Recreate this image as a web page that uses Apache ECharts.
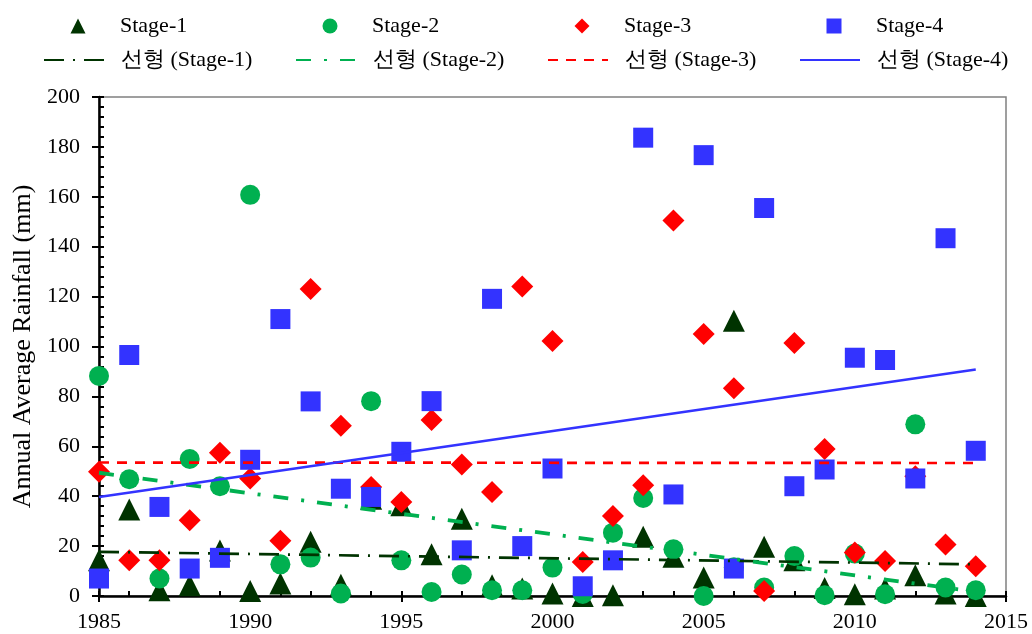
<!DOCTYPE html>
<html><head><meta charset="utf-8">
<script src="https://cdn.jsdelivr.net/npm/echarts@6/dist/echarts.min.js"></script>
<style>html,body{margin:0;padding:0;background:#fff}#c{width:1032px;height:634px}</style>
</head><body><div id="c"></div>
<script>
// ---- data ----
const years = [1985,1986,1987,1988,1989,1990,1991,1992,1993,1994,1995,1996,1997,1998,1999,2000,2001,2002,2003,2004,2005,2006,2007,2008,2009,2010,2011,2012,2013,2014];
const stage1 = [14.3,34.7,2.3,4.3,18.2,2.0,5.0,21.7,4.5,39,36.4,16.7,31,4.3,3,1,0,0.3,23.7,15.7,7.4,110.3,19.7,14.3,3.2,0.7,3,8.3,1,0];
const stage2 = [88.2,46.8,7,54.9,44,160.8,12.7,15.4,1,78.1,14.3,1.6,8.6,2.3,2.3,11.4,0.8,25.4,39.3,18.7,0,11.5,3.4,16,0.3,17,0.7,68.8,3.4,2.3];
const stage3 = [49.8,14.3,14.3,30.4,57.4,47.1,22.1,123,68.2,43.7,37.7,70.5,52.7,41.7,124,102.2,13.6,32.1,44.4,150.5,105,83.3,2,101.4,58.9,17.4,14,48,20.6,11.9];
const stage4 = [7,96.6,35.7,11,15.3,54.6,111,78,43,39.7,57.8,78.1,18.3,119.1,20,51.1,3.9,14.3,183.7,40.7,176.7,11,155.5,44,50.7,95.5,94.6,47.1,143.4,58.2];
const trendYears = [1985, 2014];
const trend1 = [17.7, 12.7];
const trend2 = [49.4, 1.7];
const trend3 = [53.5, 53.3];
const trend4 = [39.7, 90.8];
const stageNames = ['Stage-1','Stage-2','Stage-3','Stage-4'];
const trendNames = ['선형 (Stage-1)','선형 (Stage-2)','선형 (Stage-3)','선형 (Stage-4)'];
const yAxisTitle = 'Annual Average Rainfall (mm)';
const xMin = 1985, xMax = 2015, xStep = 5;
const yMin = 0, yMax = 200, yStep = 20;

// ---- styles ----
const FONT = "'Liberation Serif', serif";
const colors = ['#003300','#00B050','#FF0000','#3333FF'];
const symbols = ['triangle','circle','diamond','rect'];
const symbolSizes = [22,20,22,20];
const lineTypes = [[20,9,2,9],[15,13,3,13],[10,8],'solid'];
const lineWidths = [2.7,3.8,2.7,2.5];
const stageData = [stage1, stage2, stage3, stage4];
const trendData = [trend1, trend2, trend3, trend4];

const series = [];
stageData.forEach((arr, i) => {
  series.push({
    name: stageNames[i], type: 'scatter', clip: false,
    symbol: symbols[i], symbolSize: symbolSizes[i],
    itemStyle: { color: colors[i], opacity: 1 },
    data: years.map((y, k) => [y, arr[k]]),
    z: 2
  });
});
trendData.forEach((arr, i) => {
  series.push({
    name: trendNames[i], type: 'line', symbol: 'none', showSymbol: false,
    lineStyle: { color: colors[i], width: lineWidths[i], type: lineTypes[i] },
    itemStyle: { color: colors[i] },
    data: trendYears.map((x, k) => [x, arr[k]]),
    z: 3
  });
});

const legends = [];
for (let i = 0; i < 4; i++) {
  const tx = 120 + 252 * i;
  legends.push({
    left: tx - 49.5, top: 15, padding: 0, selectedMode: false,
    itemWidth: 15, itemHeight: 15,
    data: [{ name: stageNames[i], icon: symbols[i] }],
    formatter: '{p|{name}}',
    textStyle: { color: '#000', fontFamily: FONT, fontSize: 22,
      rich: { p: { padding: [0,0,0,29.5], fontFamily: FONT, fontSize: 22, color: '#000' } } }
  });
  legends.push({
    left: tx - 77, top: 49, padding: 0, selectedMode: false,
    itemWidth: 60, itemHeight: 15,
    itemStyle: { opacity: 0 },
    data: [{ name: trendNames[i] }],
    formatter: '{p|{name}}',
    textStyle: { color: '#000', fontFamily: FONT, fontSize: 22,
      rich: { p: { padding: [0,0,0,12], fontFamily: FONT, fontSize: 22, color: '#000' } } }
  });
}

const tickStyle = { color: '#000', width: 2 };
const option = {
  animation: false,
  backgroundColor: '#fff',
  textStyle: { fontFamily: FONT },
  grid: { left: 99, right: 26, top: 97, bottom: 38, show: true, borderColor: '#808080', borderWidth: 1.5, backgroundColor: 'transparent' },
  legend: legends,
  xAxis: [
    { type: 'value', min: xMin, max: xMax, interval: xStep, position: 'bottom',
      axisLine: { onZero: false, lineStyle: { color: '#000', width: 2.5 } },
      axisTick: { inside: true, length: 5, lineStyle: tickStyle },
      minorTick: { show: true, splitNumber: 5, length: 5, lineStyle: tickStyle },
      splitLine: { show: false }, minorSplitLine: { show: false },
      axisLabel: { margin: 15, fontSize: 22, fontFamily: FONT, color: '#000', formatter: v => String(v) } },
    { type: 'value', min: xMin, max: xMax, interval: xStep, position: 'bottom',
      axisLine: { show: false, onZero: false },
      axisTick: { inside: false, length: 6, lineStyle: tickStyle },
      splitLine: { show: false }, axisLabel: { show: false } }
  ],
  yAxis: [
    { type: 'value', min: yMin, max: yMax, interval: yStep, position: 'left',
      axisLine: { show: true, onZero: false, lineStyle: { color: '#000', width: 2.5 } },
      axisTick: { show: true, inside: true, length: 5, lineStyle: tickStyle },
      minorTick: { show: true, splitNumber: 5, length: 5, lineStyle: tickStyle },
      splitLine: { show: false }, minorSplitLine: { show: false },
      axisLabel: { margin: 19, fontSize: 22, fontFamily: FONT, color: '#000' },
      name: yAxisTitle, nameLocation: 'middle', nameGap: 60, nameRotate: 90,
      nameTextStyle: { fontSize: 26, fontFamily: FONT, color: '#000' } },
    { type: 'value', min: yMin, max: yMax, interval: yStep, position: 'left', offset: 0,
      axisLine: { show: false, onZero: false },
      axisTick: { show: true, inside: false, length: 7, lineStyle: tickStyle },
      splitLine: { show: false }, axisLabel: { show: false } }
  ],
  series: series
};
const chart = echarts.init(document.getElementById('c'), null, { renderer: 'canvas' });
chart.setOption(option);
</script>
</body></html>
